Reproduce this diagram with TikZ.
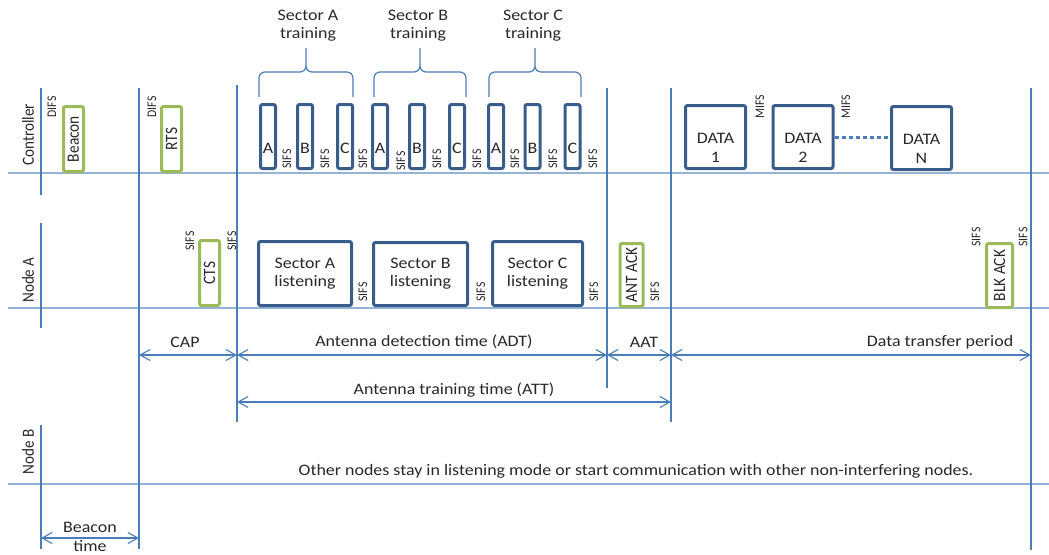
\documentclass[tikz,border=0pt]{standalone}
\usepackage{fontspec}
\setmainfont[FakeStretch=1.12]{Carlito}
\newfontfamily\rotfont[FakeStretch=0.89]{Carlito}
\usetikzlibrary{arrows.meta}
\definecolor{boxblue}{RGB}{56,93,138}
\definecolor{boxgreen}{RGB}{155,187,89}
\definecolor{tickblue}{RGB}{74,126,187}
\definecolor{rowblue}{RGB}{149,179,215}
\definecolor{textgray}{RGB}{40,40,40}

\tikzset{
  bluebox/.style={draw=boxblue,line width=3pt,rounded corners=2pt,inner sep=0pt},
  greenbox/.style={draw=boxgreen,line width=3pt,rounded corners=2pt,inner sep=0pt,rotate=90,
    font=\rotfont\fontsize{17.3}{19}\selectfont},
  rowlabel/.style={rotate=90,inner sep=0pt,font=\rotfont\fontsize{17}{19}\selectfont},
  ifslabel/.style={rotate=90,inner sep=0pt,font=\rotfont\fontsize{13.2}{14}\selectfont},
  textlabel/.style={inner sep=0pt,align=center,font=\fontsize{16}{18}\selectfont},
  period/.style={draw=tickblue,line width=1.1pt,
    {Straight Barb[length=10pt,width=11pt]}-{Straight Barb[length=10pt,width=11pt]}}
}

\begin{document}
\begin{tikzpicture}[x=1pt,y=-1pt,text=textgray]
\useasboundingbox (0,0) rectangle (1049,554);

\foreach \y in {173,308,484}
  \draw[rowblue,line width=2pt] (8,\y) -- (1049,\y);
\foreach \x/\ya/\yb in {41/88/195,41/223/328,41/425/549,139/88/549,237/85/422,
    607/88/388,671/88/422,1031/88/550}
  \draw[tickblue,line width=1.2pt] (\x,\ya) -- (\x,\yb);

\node[rowlabel] (rowc) at (28,135) {Controller};
\node[rowlabel] (rowa) at (28,280) {Node A};
\node[rowlabel] (rowb) at (28,452) {Node B};

\node[greenbox,minimum width=65pt,minimum height=20pt] (beacon) at (73.5,139) {Beacon};
\node[greenbox,minimum width=65pt,minimum height=20pt] (rts) at (171.5,139) {RTS};
\node[greenbox,minimum width=65pt,minimum height=20pt] (cts) at (209.5,273) {CTS};
\node[greenbox,minimum width=63pt,minimum height=23pt] (antack) at (631.5,275) {ANT ACK};
\node[greenbox,minimum width=64pt,minimum height=26pt] (blkack) at (999.5,275.5) {BLK ACK};

\foreach \x/\y/\t [count=\i] in {52/107/DIFS,152/107/DIFS,190/241/SIFS,232/241/SIFS,
    287/159/SIFS,325/159/SIFS,363/159/SIFS,401/161/SIFS,437/159/SIFS,477/159/SIFS,
    515/159/SIFS,553/159/SIFS,593/159/SIFS,760/107/MIFS,846/107/MIFS,
    363/292/SIFS,481/292/SIFS,594/292/SIFS,655/292/SIFS,976/237/SIFS,1023/237/SIFS}
  \node[ifslabel] (ifs\i) at (\x,\y) {\t};

\foreach \x/\l [count=\i] in {268/A,305/B,345/C,380/A,417/B,457/C,496/A,532.5/B,572.5/C}{
  \node[bluebox,minimum width=15pt,minimum height=64pt] (tr\i) at (\x,136.5) {};
  \node[textlabel] (trl\i) at (\x,148) {\l};
}

\foreach \a/\m/\b in {259/306/353,374/420/466,489/535/581}
  \draw[tickblue,line width=1.2pt,rounded corners=6pt]
    (\a,97) -- (\a,72) -- (\m,72) -- (\m,48) (\b,97) -- (\b,72) -- (\m,72) -- (\m,48);
\foreach \x/\s [count=\i] in {308/A,418/B,533/C}
  \node[textlabel] (sec\i) at (\x,26) {Sector \s\\training};

\node[bluebox,textlabel,minimum width=93pt,minimum height=64pt] (lisa) at (305,273.5) {Sector A\\listening};
\node[bluebox,textlabel,minimum width=94pt,minimum height=63pt] (lisb) at (420.5,274) {Sector B\\listening};
\node[bluebox,textlabel,minimum width=90pt,minimum height=64pt] (lisc) at (537.5,273.5) {Sector C\\listening};

\foreach \x/\y/\n [count=\i] in {715.5/137/1,803/137/2,921.5/138/N}{
  \node[bluebox,minimum width=60pt,minimum height=63pt] (data\i) at (\x,\y) {};
  \node[textlabel,font=\fontsize{16}{19}\selectfont] (datal\i) at (\x,\y+11) {DATA\\\n};
}
\draw[tickblue,line width=3pt,dash pattern=on 4pt off 3pt] (data2.east) -- (data2.east -| data3.west);

\foreach \n/\x in {t0/41,t1/139,t2/237,t3/607,t4/671,t5/1031}{
  \coordinate (\n a) at (\x,355);
  \coordinate (\n b) at (\x,402);
  \coordinate (\n c) at (\x,538);
}
\draw[period] (t1a) -- (t2a);
\draw[period] (t2a) -- (t3a);
\draw[period] (t3a) -- (t4a);
\draw[period] (t4a) -- (t5a);
\draw[period] (t2b) -- (t4b);
\draw[period] (t0c) -- (t1c);
\node[textlabel] (cap) at (185,342) {CAP};
\node[textlabel] (adt) at (424,342) {Antenna detection time (ADT)};
\node[textlabel] (aat) at (644,342) {AAT};
\node[textlabel] (dtp) at (940,342) {Data transfer period};
\node[textlabel] (att) at (454,390) {Antenna training time (ATT)};
\node[textlabel,font=\fontsize{16}{19}\selectfont] (btime) at (90,536.5) {Beacon\\time};

\node[textlabel] (other) at (636,471) {Other nodes stay in listening mode or start communication with other non-interfering nodes.};
\end{tikzpicture}
\end{document}
